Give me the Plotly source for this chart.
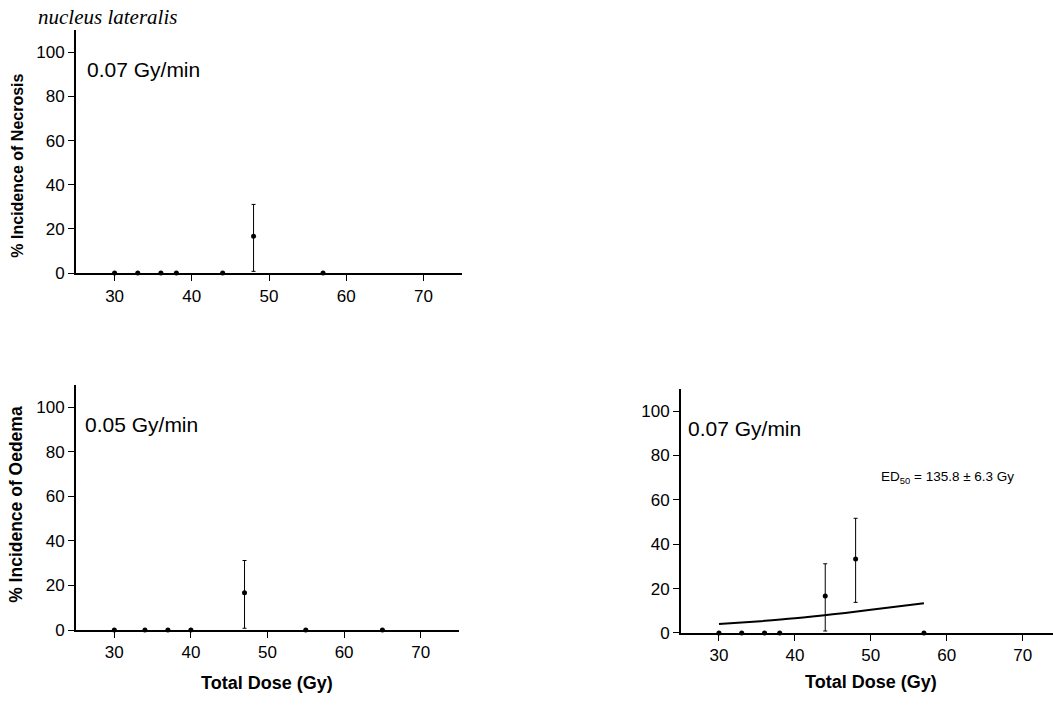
import plotly.graph_objects as go

# Necrosis, nucleus lateralis, 0.07 Gy/min
necrosis_dose = [30, 33, 36, 38, 44, 48, 57]
necrosis_pct = [0, 0, 0, 0, 0, 16.7, 0]
necrosis_err_up = [0, 0, 0, 0, 0, 14.4, 0]
necrosis_err_down = [0, 0, 0, 0, 0, 15.9, 0]

# Oedema, 0.05 Gy/min
oedema05_dose = [30, 34, 37, 40, 47, 55, 65]
oedema05_pct = [0, 0, 0, 0, 16.7, 0, 0]
oedema05_err_up = [0, 0, 0, 0, 14.5, 0, 0]
oedema05_err_down = [0, 0, 0, 0, 15.9, 0, 0]

# Oedema, 0.07 Gy/min
oedema07_dose = [30, 33, 36, 38, 44, 48, 57]
oedema07_pct = [0, 0, 0, 0, 16.7, 33.3, 0]
oedema07_err_up = [0, 0, 0, 0, 14.5, 18.4, 0]
oedema07_err_down = [0, 0, 0, 0, 15.8, 19.5, 0]

# Fitted dose-response curve (0.07 Gy/min oedema)
fit_dose = [30, 35, 40, 45, 50, 57]
fit_pct = [4.0, 5.2, 6.6, 8.4, 10.5, 13.4]

x_ticks = [30, 40, 50, 60, 70]
y_ticks = [0, 20, 40, 60, 80, 100]

W, H = 1053, 712
SANS = "Liberation Sans, Arial, sans-serif"


def px(x):
    return x / W


def py(y):
    return 1 - y / H


fig = go.Figure()


def points(xs, ys, up, down, xa, ya):
    fig.add_trace(go.Scatter(
        x=xs, y=ys, mode="markers", xaxis=xa, yaxis=ya,
        marker=dict(color="black", size=5),
        error_y=dict(type="data", array=up, arrayminus=down,
                     color="black", thickness=1, width=2),
        cliponaxis=False, showlegend=False,
    ))


points(necrosis_dose, necrosis_pct, necrosis_err_up, necrosis_err_down, "x", "y")
points(oedema05_dose, oedema05_pct, oedema05_err_up, oedema05_err_down, "x2", "y2")
points(oedema07_dose, oedema07_pct, oedema07_err_up, oedema07_err_down, "x3", "y3")
fig.add_trace(go.Scatter(
    x=fit_dose, y=fit_pct, mode="lines", xaxis="x3", yaxis="y3",
    line=dict(color="black", width=2, shape="spline"),
    showlegend=False,
))

axis_common = dict(
    showline=True, linecolor="black", linewidth=2, showgrid=False,
    zeroline=False, ticks="outside", ticklen=6, tickwidth=1,
    tickcolor="black", tickfont=dict(family=SANS, size=17, color="black"),
)

fig.update_layout(
    width=W, height=H,
    margin=dict(l=0, r=0, t=0, b=0),
    paper_bgcolor="white", plot_bgcolor="white",
    xaxis=dict(domain=[px(76), px(462)], range=[25, 75], tickvals=x_ticks,
               anchor="y", **axis_common),
    yaxis=dict(domain=[py(277), py(30.6)], range=[0, 110], tickvals=y_ticks,
               anchor="x", **axis_common),
    xaxis2=dict(domain=[px(76), px(459)], range=[25, 75], tickvals=x_ticks,
                anchor="y2", **axis_common),
    yaxis2=dict(domain=[py(639), py(390.4)], range=[0, 110], tickvals=y_ticks,
                anchor="x2", **axis_common),
    xaxis3=dict(domain=[px(681), 1.0], range=[25, 74], tickvals=x_ticks,
                anchor="y3", **axis_common),
    yaxis3=dict(domain=[py(642), py(394.5)], range=[0, 110], tickvals=y_ticks,
                anchor="x3", **axis_common),
)


def label(text, x, y, size, xanchor="left", bold=False, angle=0,
          family=SANS, italic=False):
    if bold:
        text = f"<b>{text}</b>"
    if italic:
        text = f"<i>{text}</i>"
    fig.add_annotation(
        text=text, x=px(x), y=py(y), xref="paper", yref="paper",
        xanchor=xanchor, yanchor="middle", showarrow=False, textangle=angle,
        font=dict(family=family, size=size, color="black"),
    )


label("nucleus lateralis", 36, 17, 21, family="Liberation Serif, Times New Roman, serif",
      italic=True)
label("0.07 Gy/min", 85, 70, 21)
label("0.05 Gy/min", 83, 431, 21)
label("0.07 Gy/min", 686, 435, 21)
label("ED<sub>50</sub> = 135.8 ± 6.3 Gy", 879, 484, 13.5)

label("% Incidence of Necrosis", 18, 168, 16, xanchor="center", bold=True, angle=-90)
label("% Incidence of Oedema", 16, 512, 17.5, xanchor="center", bold=True, angle=-90)
label("Total Dose (Gy)", 267, 693, 18, xanchor="center", bold=True)
label("Total Dose (Gy)", 871, 692, 18, xanchor="center", bold=True)

fig.write_html("out.html")
